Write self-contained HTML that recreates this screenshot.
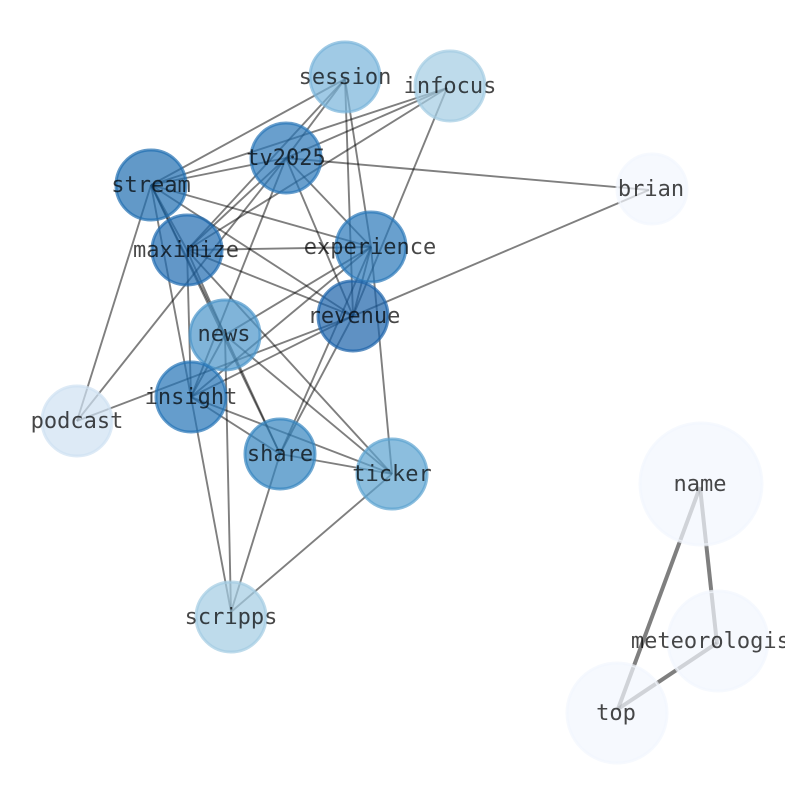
<!DOCTYPE html>
<html><head><meta charset="utf-8"><style>
html,body{margin:0;padding:0;background:#fff;width:794px;height:790px;overflow:hidden}
svg{display:block}
.e line{stroke:#000;stroke-opacity:.5;stroke-width:1.9}
.t line{stroke:#000;stroke-opacity:.5;stroke-width:4}
circle{stroke-width:3}
text{font-family:"DejaVu Sans Mono","Liberation Mono",monospace;font-size:22px;text-anchor:middle;fill:#000;fill-opacity:.72}
</style></head><body>
<svg width="785" height="790" viewBox="0 0 785 790" xmlns="http://www.w3.org/2000/svg">
<g class="e">
<line x1="345" y1="79" x2="151" y2="185"/>
<line x1="345" y1="79" x2="286" y2="158"/>
<line x1="345" y1="79" x2="187" y2="250"/>
<line x1="345" y1="79" x2="371" y2="247"/>
<line x1="345" y1="79" x2="353" y2="316"/>
<line x1="447" y1="88" x2="151" y2="185"/>
<line x1="447" y1="88" x2="286" y2="158"/>
<line x1="447" y1="88" x2="187" y2="250"/>
<line x1="447" y1="88" x2="353" y2="316"/>
<line x1="286" y1="158" x2="151" y2="185"/>
<line x1="286" y1="158" x2="649" y2="190"/>
<line x1="286" y1="158" x2="187" y2="250"/>
<line x1="286" y1="158" x2="371" y2="247"/>
<line x1="286" y1="158" x2="353" y2="316"/>
<line x1="286" y1="158" x2="191" y2="397"/>
<line x1="286" y1="158" x2="77" y2="421"/>
<line x1="151" y1="185" x2="77" y2="421"/>
<line x1="151" y1="185" x2="187" y2="250"/>
<line x1="151" y1="185" x2="371" y2="247"/>
<line x1="151" y1="185" x2="353" y2="316"/>
<line x1="151" y1="185" x2="191" y2="397"/>
<line x1="151" y1="185" x2="225" y2="335"/>
<line x1="151" y1="185" x2="280" y2="454"/>
<line x1="187" y1="250" x2="371" y2="247"/>
<line x1="187" y1="250" x2="353" y2="316"/>
<line x1="187" y1="250" x2="225" y2="335"/>
<line x1="187" y1="250" x2="191" y2="397"/>
<line x1="187" y1="250" x2="392" y2="474"/>
<line x1="353" y1="316" x2="649" y2="190"/>
<line x1="353" y1="316" x2="77" y2="421"/>
<line x1="353" y1="316" x2="191" y2="397"/>
<line x1="353" y1="316" x2="280" y2="454"/>
<line x1="371" y1="247" x2="353" y2="316"/>
<line x1="371" y1="247" x2="225" y2="335"/>
<line x1="371" y1="247" x2="191" y2="397"/>
<line x1="371" y1="247" x2="280" y2="454"/>
<line x1="371" y1="247" x2="392" y2="474"/>
<line x1="225" y1="335" x2="191" y2="397"/>
<line x1="225" y1="335" x2="280" y2="454"/>
<line x1="225" y1="335" x2="392" y2="474"/>
<line x1="225" y1="335" x2="231" y2="612"/>
<line x1="191" y1="397" x2="280" y2="454"/>
<line x1="191" y1="397" x2="392" y2="474"/>
<line x1="191" y1="397" x2="231" y2="612"/>
<line x1="280" y1="454" x2="392" y2="474"/>
<line x1="280" y1="454" x2="231" y2="612"/>
<line x1="392" y1="474" x2="231" y2="612"/>
</g>
<g class="t">
<line x1="700" y1="487" x2="717" y2="644"/>
<line x1="700" y1="487" x2="618" y2="709"/>
<line x1="717" y1="643" x2="618" y2="709"/>
</g>
<circle cx="345" cy="77" r="35" fill="#77b4da" fill-opacity=".7" stroke="#77b4da" stroke-opacity=".7"/>
<circle cx="450" cy="86" r="35" fill="#a3cce3" fill-opacity=".7" stroke="#a3cce3" stroke-opacity=".7"/>
<circle cx="286" cy="158" r="35" fill="#2a76b8" fill-opacity=".7" stroke="#2a76b8" stroke-opacity=".7"/>
<circle cx="151" cy="185" r="35" fill="#1f6db1" fill-opacity=".7" stroke="#1f6db1" stroke-opacity=".7"/>
<circle cx="652" cy="189" r="35" fill="#f2f6fd" fill-opacity=".7" stroke="#f2f6fd" stroke-opacity=".7"/>
<circle cx="187" cy="250" r="35" fill="#1f6bb0" fill-opacity=".7" stroke="#1f6bb0" stroke-opacity=".7"/>
<circle cx="371" cy="247" r="35" fill="#2a78b9" fill-opacity=".7" stroke="#2a78b9" stroke-opacity=".7"/>
<circle cx="353" cy="316" r="35" fill="#1b63a9" fill-opacity=".7" stroke="#1b63a9" stroke-opacity=".7"/>
<circle cx="225" cy="335" r="35" fill="#4a94c9" fill-opacity=".7" stroke="#4a94c9" stroke-opacity=".7"/>
<circle cx="191" cy="397" r="35" fill="#2474b7" fill-opacity=".7" stroke="#2474b7" stroke-opacity=".7"/>
<circle cx="77" cy="421" r="35" fill="#cfe1f2" fill-opacity=".7" stroke="#cfe1f2" stroke-opacity=".7"/>
<circle cx="280" cy="454" r="35" fill="#3585bf" fill-opacity=".7" stroke="#3585bf" stroke-opacity=".7"/>
<circle cx="392" cy="474" r="35" fill="#5ba3d0" fill-opacity=".7" stroke="#5ba3d0" stroke-opacity=".7"/>
<circle cx="231" cy="617" r="35" fill="#a3cce3" fill-opacity=".7" stroke="#a3cce3" stroke-opacity=".7"/>
<circle cx="701" cy="484" r="61" fill="#f2f6fd" fill-opacity=".7" stroke="#f2f6fd" stroke-opacity=".7"/>
<circle cx="718" cy="641" r="50" fill="#f2f6fd" fill-opacity=".7" stroke="#f2f6fd" stroke-opacity=".7"/>
<circle cx="617" cy="713" r="50" fill="#f2f6fd" fill-opacity=".7" stroke="#f2f6fd" stroke-opacity=".7"/>
<text x="345" y="84">session</text>
<text x="450" y="93">infocus</text>
<text x="286" y="165">tv2025</text>
<text x="151" y="192">stream</text>
<text x="651" y="196">brian</text>
<text x="186" y="257">maximize</text>
<text x="370" y="254">experience</text>
<text x="354" y="323">revenue</text>
<text x="224" y="341">news</text>
<text x="191" y="404">insight</text>
<text x="77" y="428">podcast</text>
<text x="280" y="461">share</text>
<text x="392" y="481">ticker</text>
<text x="231" y="624">scripps</text>
<text x="700" y="491">name</text>
<text x="717" y="648">meteorologist</text>
<text x="616" y="720">top</text>
</svg>
</body></html>
